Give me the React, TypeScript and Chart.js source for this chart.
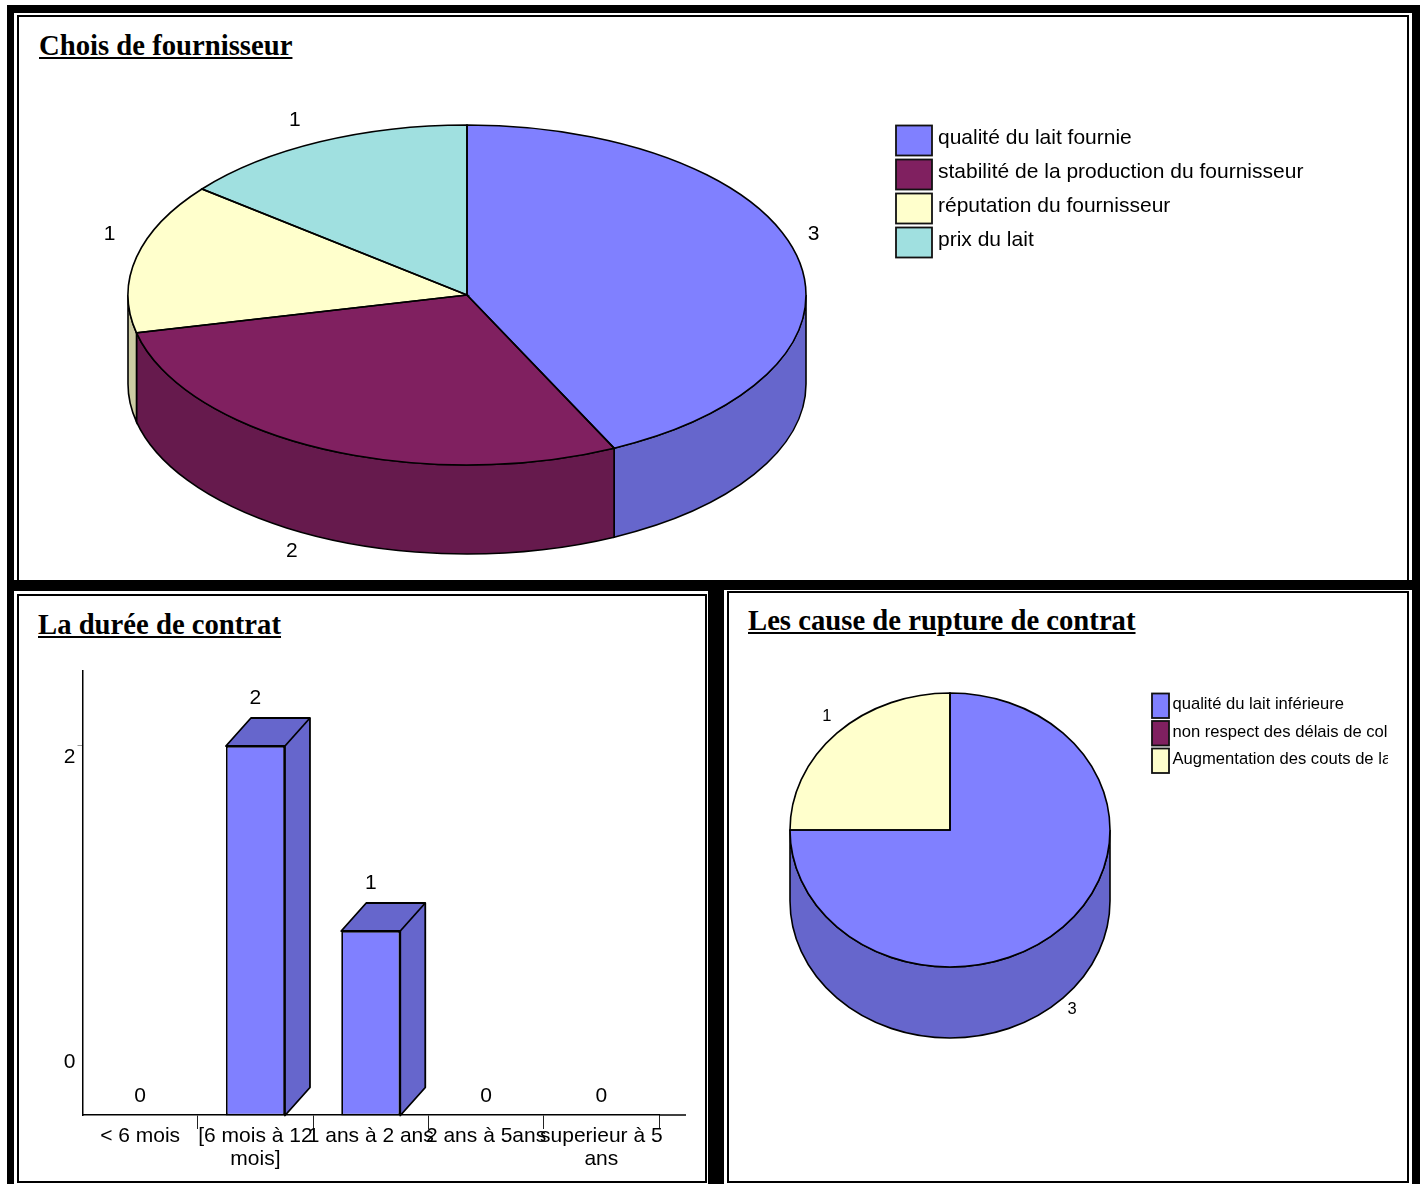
import React, { useEffect, useRef } from "react";
import { Chart, registerables } from "chart.js";

Chart.register(...registerables);

const SANS = '"Liberation Sans", Arial, sans-serif';
const SERIF = '"Liberation Serif", "Times New Roman", serif';

const blue = "#8080FF";
const maroon = "#802060";
const cream = "#FFFFCC";
const teal = "#A0E0E0";
const blueShade = "#6666CC";
const maroonShade = "#661A4D";
const creamShade = "#CCCCA3";
const tealShade = "#80B3B3";

const supplierLabels = [
  "qualité du lait fournie",
  "stabilité de la production du fournisseur",
  "réputation du fournisseur",
  "prix du lait",
];
const supplierValues = [3, 2, 1, 1];
const supplierColors = [blue, maroon, cream, teal];
const supplierShades = [blueShade, maroonShade, creamShade, tealShade];

const durationLabels = [
  "< 6 mois",
  ["[6 mois à 12", "mois]"],
  "1 ans à 2 ans",
  "2 ans à 5ans",
  ["superieur à 5", "ans"],
];
const durationValues = [0, 2, 1, 0, 0];
const durationTicks = [0, 2];

const ruptureLabels = [
  "qualité du lait inférieure",
  "non respect des délais de col",
  "Augmentation des couts de la",
];
const ruptureValues = [3, 0, 1];
const ruptureColors = [blue, maroon, cream];
const ruptureShades = [blueShade, maroonShade, creamShade];

type PieCfg = {
  ratio: number;
  depth: number;
  shades: string[];
  labelFont: string;
  labelOffsets: number[][];
  legend: {
    x: number;
    y: number;
    w: number;
    h: number;
    pitch: number;
    gap: number;
    font: string;
    textShift: number;
    clipX: number;
  };
};

function pie3d(cfg: PieCfg) {
  const lineW = 1.6;
  return {
    id: "pie3d",
    beforeDatasetsDraw(chart: any) {
      const ctx = chart.ctx;
      const arcs = chart.getDatasetMeta(0).data;
      arcs.forEach((arc: any, i: number) => {
        const a0 = Math.max(arc.startAngle, 0);
        const a1 = Math.min(arc.endAngle, Math.PI);
        if (a1 <= a0 || arc.circumference === 0) return;
        const rx = arc.outerRadius;
        const ry = rx * cfg.ratio;
        ctx.save();
        ctx.beginPath();
        ctx.ellipse(arc.x, arc.y, rx, ry, 0, a0, a1);
        ctx.ellipse(arc.x, arc.y + cfg.depth, rx, ry, 0, a1, a0, true);
        ctx.closePath();
        ctx.fillStyle = cfg.shades[i];
        ctx.fill();
        ctx.strokeStyle = "#000";
        ctx.lineWidth = lineW;
        ctx.stroke();
        ctx.restore();
      });
    },
    beforeDatasetDraw(chart: any) {
      const ctx = chart.ctx;
      const arc = chart.getDatasetMeta(0).data[0];
      ctx.save();
      ctx.translate(arc.x, arc.y);
      ctx.scale(1, cfg.ratio);
      ctx.translate(-arc.x, -arc.y);
    },
    afterDatasetDraw(chart: any) {
      const ctx = chart.ctx;
      ctx.restore();
      const arcs = chart.getDatasetMeta(0).data;
      ctx.save();
      ctx.strokeStyle = "#000";
      ctx.lineWidth = lineW;
      arcs.forEach((arc: any) => {
        if (arc.endAngle - arc.startAngle <= 0) return;
        const rx = arc.outerRadius;
        ctx.beginPath();
        ctx.moveTo(arc.x, arc.y);
        ctx.ellipse(arc.x, arc.y, rx, rx * cfg.ratio, 0, arc.startAngle, arc.endAngle);
        ctx.closePath();
        ctx.stroke();
      });
      ctx.restore();
    },
    afterDraw(chart: any) {
      const ctx = chart.ctx;
      const arcs = chart.getDatasetMeta(0).data;
      const values = chart.data.datasets[0].data;
      const colors = chart.data.datasets[0].backgroundColor;
      ctx.save();
      ctx.fillStyle = "#000";
      ctx.font = cfg.labelFont;
      ctx.textAlign = "center";
      ctx.textBaseline = "middle";
      arcs.forEach((arc: any, i: number) => {
        if (!values[i]) return;
        const mid = (arc.startAngle + arc.endAngle) / 2;
        const rx = arc.outerRadius;
        const sin = Math.sin(mid);
        const x = arc.x + rx * Math.cos(mid) + cfg.labelOffsets[i][0];
        const y =
          arc.y + rx * cfg.ratio * sin + (sin > 0 ? cfg.depth : 0) + cfg.labelOffsets[i][1];
        ctx.fillText(String(values[i]), x, y);
      });
      const l = cfg.legend;
      ctx.beginPath();
      ctx.rect(0, 0, l.clipX, chart.height);
      ctx.clip();
      ctx.font = l.font;
      ctx.textAlign = "left";
      chart.data.labels.forEach((label: string, i: number) => {
        const y = l.y + i * l.pitch;
        ctx.fillStyle = colors[i];
        ctx.fillRect(l.x, y, l.w, l.h);
        ctx.strokeStyle = "#111";
        ctx.lineWidth = 1.8;
        ctx.strokeRect(l.x, y, l.w, l.h);
        ctx.fillStyle = "#000";
        ctx.fillText(label, l.x + l.w + l.gap, y + l.h / 2 + l.textShift);
      });
      ctx.restore();
    },
  };
}

function PieCanvas(props: {
  left: number;
  top: number;
  width: number;
  height: number;
  labels: string[];
  values: number[];
  colors: string[];
  radius: number;
  padRight: number;
  padBottom: number;
  cfg: PieCfg;
}) {
  const ref = useRef<HTMLCanvasElement>(null);
  useEffect(() => {
    const chart = new Chart(ref.current as HTMLCanvasElement, {
      type: "pie",
      data: {
        labels: props.labels,
        datasets: [
          {
            data: props.values,
            backgroundColor: props.colors,
            borderWidth: 0,
            radius: props.radius,
            clip: false,
          } as any,
        ],
      },
      options: {
        responsive: false,
        animation: false,
        events: [],
        layout: { padding: { right: props.padRight, bottom: props.padBottom } },
        plugins: { legend: { display: false }, tooltip: { enabled: false } },
      },
      plugins: [pie3d(props.cfg)],
    } as any);
    return () => chart.destroy();
  }, []);
  return (
    <canvas
      ref={ref}
      width={props.width}
      height={props.height}
      style={{ position: "absolute", left: props.left, top: props.top, width: props.width, height: props.height }}
    />
  );
}

const barDepthX = 25;
const barDepthY = 28;
const barShift = 1;

const bar3d = {
  id: "bar3d",
  beforeDatasetsDraw(chart: any) {
    const ctx = chart.ctx;
    const values = chart.data.datasets[0].data;
    ctx.save();
    ctx.strokeStyle = "#000";
    ctx.lineWidth = 1.8;
    ctx.lineJoin = "round";
    ctx.fillStyle = blueShade;
    chart.getDatasetMeta(0).data.forEach((bar: any, i: number) => {
      if (!values[i]) return;
      const l = bar.x - bar.width / 2;
      const r = bar.x + bar.width / 2;
      const t = bar.y + barShift;
      const b = bar.base + barShift;
      ctx.beginPath();
      ctx.moveTo(l, t);
      ctx.lineTo(l + barDepthX, t - barDepthY);
      ctx.lineTo(r + barDepthX, t - barDepthY);
      ctx.lineTo(r + barDepthX, b - barDepthY);
      ctx.lineTo(r, b);
      ctx.lineTo(r, t);
      ctx.closePath();
      ctx.fill();
      ctx.stroke();
      ctx.beginPath();
      ctx.moveTo(r, t);
      ctx.lineTo(r + barDepthX, t - barDepthY);
      ctx.stroke();
    });
    ctx.restore();
  },
  beforeDatasetDraw(chart: any) {
    chart.ctx.save();
    chart.ctx.translate(0, barShift);
  },
  afterDatasetDraw(chart: any) {
    chart.ctx.restore();
  },
  afterDraw(chart: any) {
    const ctx = chart.ctx;
    const area = chart.chartArea;
    const values = chart.data.datasets[0].data;
    ctx.save();
    ctx.strokeStyle = "#000";
    ctx.lineWidth = 1.5;
    ctx.beginPath();
    ctx.moveTo(area.right, area.bottom);
    ctx.lineTo(area.right + 27, area.bottom);
    ctx.stroke();
    ctx.fillStyle = "#000";
    ctx.font = "21px " + SANS;
    ctx.textAlign = "center";
    ctx.textBaseline = "middle";
    chart.getDatasetMeta(0).data.forEach((bar: any, i: number) => {
      const y = values[i] ? bar.y - 47 : bar.y - 19;
      ctx.fillText(String(values[i]), bar.x, y);
    });
    const yScale = chart.scales.y;
    durationTicks.forEach((v) => {
      const shift = v === 0 ? -53 : 12;
      ctx.fillText(String(v), area.left - 13, yScale.getPixelForValue(v) + shift);
    });
    ctx.restore();
  },
};

function BarCanvas(props: { left: number; top: number; width: number; height: number }) {
  const ref = useRef<HTMLCanvasElement>(null);
  useEffect(() => {
    const chart = new Chart(ref.current as HTMLCanvasElement, {
      type: "bar",
      data: {
        labels: durationLabels,
        datasets: [
          {
            data: durationValues,
            backgroundColor: blue,
            borderColor: "#000",
            borderWidth: 1.8,
            borderSkipped: false,
            barPercentage: 0.512,
            categoryPercentage: 1,
            clip: false,
          } as any,
        ],
      },
      options: {
        responsive: false,
        animation: false,
        events: [],
        layout: { padding: { top: 73, right: 45, left: 0, bottom: 0 } },
        plugins: { legend: { display: false }, tooltip: { enabled: false } },
        scales: {
          x: {
            afterFit: (s: any) => {
              s.height = 66;
            },
            grid: {
              offset: true,
              drawOnChartArea: false,
              tickLength: 14,
              tickWidth: 1,
              tickColor: (c: any) => (c.index === 0 ? "rgba(0,0,0,0)" : "#222"),
            },
            border: { color: "#000", width: 1.5 },
            ticks: {
              autoSkip: false,
              maxRotation: 0,
              minRotation: 0,
              padding: -4,
              color: "#000",
              font: { family: SANS, size: 21, lineHeight: 1.1 },
            },
          },
          y: {
            min: 0,
            max: 2.4,
            afterFit: (s: any) => {
              s.width = 63.5;
            },
            afterBuildTicks: (s: any) => {
              s.ticks = durationTicks.map((v) => ({ value: v }));
            },
            grid: {
              drawOnChartArea: false,
              tickLength: 5,
              tickWidth: 1,
              tickColor: (c: any) => (c.index === 0 ? "rgba(0,0,0,0)" : "#999"),
            },
            border: { color: "#000", width: 1.5 },
            ticks: { display: false },
          },
        },
      },
      plugins: [bar3d],
    } as any);
    return () => chart.destroy();
  }, []);
  return (
    <canvas
      ref={ref}
      width={props.width}
      height={props.height}
      style={{ position: "absolute", left: props.left, top: props.top, width: props.width, height: props.height }}
    />
  );
}

function rect(left: number, top: number, right: number, bottom: number, extra: any) {
  return { position: "absolute", left, top, width: right - left, height: bottom - top, boxSizing: "border-box", ...extra } as any;
}

function Title(props: { left: number; top: number; text: string }) {
  return (
    <div
      style={{
        position: "absolute",
        left: props.left,
        top: props.top,
        font: "bold 28.7px " + SERIF,
        lineHeight: "34px",
        color: "#000",
        whiteSpace: "nowrap",
        textDecoration: "underline",
      }}
    >
      {props.text}
    </div>
  );
}

export default function App() {
  return (
    <div style={{ position: "absolute", left: 0, top: 0, width: 1423, height: 1184, overflow: "hidden", background: "#fff" }}>
      <div style={rect(7, 5, 1420, 1184, { background: "#000" })} />
      <div style={rect(14, 13, 1412, 580, { background: "#fff" })} />
      <div style={rect(17, 15, 1409, 590, { border: "2px solid #000", background: "#fff" })} />
      <div style={rect(7, 580, 1420, 590, { background: "#000" })} />
      <div style={rect(14, 591, 708, 1184, { background: "#fff" })} />
      <div style={rect(17, 594, 707, 1183, { border: "2px solid #000", background: "#fff" })} />
      <div style={rect(724, 590, 1412, 1184, { background: "#fff" })} />
      <div style={rect(727, 591, 1409, 1183, { border: "2px solid #000", background: "#fff" })} />

      <Title left={39} top={28} text="Chois de fournisseur" />
      <Title left={38} top={607} text="La durée de contrat" />
      <Title left={748} top={603} text="Les cause de rupture de contrat" />

      <PieCanvas
        left={19}
        top={17}
        width={1388}
        height={563}
        labels={supplierLabels}
        values={supplierValues}
        colors={supplierColors}
        radius={339}
        padRight={492}
        padBottom={7}
        cfg={{
          ratio: 170 / 339,
          depth: 89,
          shades: supplierShades,
          labelFont: "21px " + SANS,
          labelOffsets: [
            [16, -23],
            [-28, 14],
            [-27, -23],
            [-25, -22],
          ],
          legend: {
            x: 877,
            y: 108.5,
            w: 36,
            h: 30,
            pitch: 34,
            gap: 6,
            font: "21px " + SANS,
            textShift: -2,
            clipX: 1388,
          },
        }}
      />

      <BarCanvas left={19} top={598} width={685} height={583} />

      <PieCanvas
        left={729}
        top={593}
        width={677}
        height={588}
        labels={ruptureLabels}
        values={ruptureValues}
        colors={ruptureColors}
        radius={160}
        padRight={235}
        padBottom={114}
        cfg={{
          ratio: 137 / 160,
          depth: 71,
          shades: ruptureShades,
          labelFont: "16.5px " + SANS,
          labelOffsets: [
            [9, 12],
            [0, 0],
            [-10, -17],
          ],
          legend: {
            x: 423,
            y: 100.5,
            w: 17,
            h: 24.5,
            pitch: 27.5,
            gap: 3.5,
            font: "16.6px " + SANS,
            textShift: -1,
            clipX: 659,
          },
        }}
      />
    </div>
  );
}
